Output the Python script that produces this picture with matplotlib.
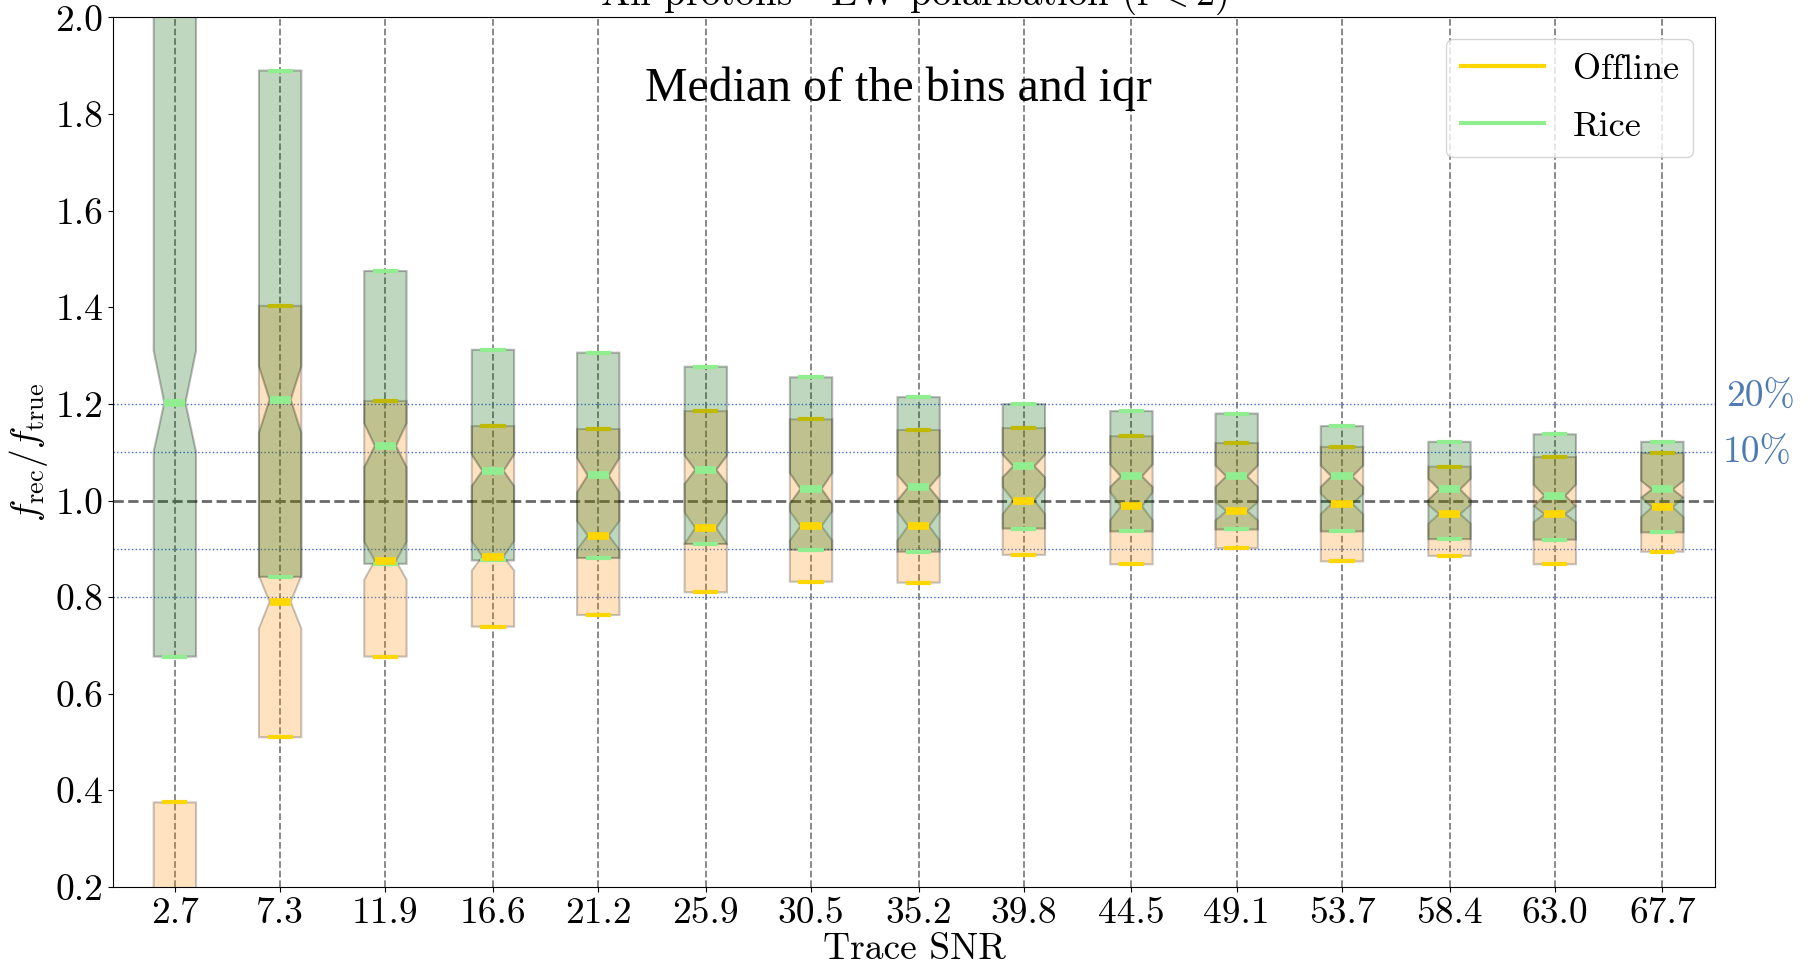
import matplotlib
matplotlib.use("Agg")
import matplotlib.pyplot as plt
from matplotlib.lines import Line2D

plt.rcParams["font.family"] = "cmr10"
plt.rcParams["mathtext.fontset"] = "cm"
plt.rcParams["axes.formatter.use_mathtext"] = True

# bin centres (trace SNR)
snr = [2.7, 7.3, 11.9, 16.6, 21.2, 25.9, 30.5, 35.2, 39.8, 44.5, 49.1, 53.7, 58.4, 63.0, 67.7]

# Offline: quartiles, median and notch (median confidence interval)
off_q1 = [-0.2, 0.51, 0.677, 0.739, 0.763, 0.810, 0.832, 0.830, 0.8875, 0.868, 0.901, 0.874, 0.8855, 0.868, 0.894]
off_med = [0.05, 0.79, 0.875, 0.884, 0.9275, 0.943, 0.947, 0.947, 1.0, 0.988, 0.978, 0.993, 0.972, 0.972, 0.986]
off_q3 = [0.375, 1.403, 1.206, 1.154, 1.148, 1.185, 1.168, 1.146, 1.150, 1.133, 1.119, 1.111, 1.070, 1.090, 1.098]
off_cilo = [-0.05, 0.735, 0.836, 0.855, 0.898, 0.910, 0.917, 0.917, 0.972, 0.959, 0.959, 0.972, 0.952, 0.955, 0.9655]
off_cihi = [0.15, 0.844, 0.915, 0.916, 0.958, 0.975, 0.978, 0.977, 1.028, 1.017, 0.997, 1.014, 0.991, 0.989, 1.007]

# Rice
rice_q1 = [0.677, 0.842, 0.869, 0.876, 0.881, 0.910, 0.898, 0.894, 0.942, 0.936, 0.940, 0.936, 0.920, 0.919, 0.934]
rice_med = [1.2025, 1.209, 1.113, 1.0615, 1.052, 1.0635, 1.024, 1.027, 1.071, 1.05, 1.05, 1.05, 1.023, 1.010, 1.023]
rice_q3 = [2.3, 1.890, 1.475, 1.312, 1.306, 1.277, 1.255, 1.214, 1.1995, 1.185, 1.180, 1.154, 1.1215, 1.137, 1.1215]
rice_cilo = [1.101, 1.14, 1.069, 1.030, 1.017, 1.0345, 0.993, 1.0, 1.048, 1.028, 1.028, 1.028, 1.001, 0.988, 1.0055]
rice_cihi = [1.31, 1.278, 1.160, 1.095, 1.088, 1.093, 1.057, 1.053, 1.095, 1.0745, 1.0725, 1.0725, 1.045, 1.033, 1.041]


def make_stats(q1, med, q3, cilo, cihi):
    # whiskers collapsed onto the box: caps mark the iqr edges
    return [dict(q1=a, med=m, q3=b, cilo=lo, cihi=hi, whislo=a, whishi=b, fliers=[])
            for a, m, b, lo, hi in zip(q1, med, q3, cilo, cihi)]


fig = plt.figure(figsize=(18.15, 9.68), dpi=100)
ax = fig.add_axes([0.0623, 0.0837, 0.8826, 0.8983])

width = 1.85

ax.bxp(make_stats(off_q1, off_med, off_q3, off_cilo, off_cihi),
       positions=snr, widths=width, patch_artist=True, shownotches=True,
       showfliers=False, manage_ticks=False,
       boxprops=dict(facecolor=(1.0, 0.55, 0.0, 0.25), edgecolor=(0, 0, 0, 0.22), linewidth=1.5),
       medianprops=dict(color="gold", linewidth=5.5, zorder=4),
       capprops=dict(color="gold", linewidth=3),
       whiskerprops=dict(color="gold", linewidth=0))

ax.bxp(make_stats(rice_q1, rice_med, rice_q3, rice_cilo, rice_cihi),
       positions=snr, widths=width, patch_artist=True, shownotches=True,
       showfliers=False, manage_ticks=False,
       boxprops=dict(facecolor=(0.0, 0.39, 0.0, 0.25), edgecolor=(0, 0, 0, 0.27), linewidth=1.5),
       medianprops=dict(color="lightgreen", linewidth=5.5, zorder=4),
       capprops=dict(color="lightgreen", linewidth=3, zorder=3),
       whiskerprops=dict(color="lightgreen", linewidth=0))

# reference levels
ax.axhline(1.0, color="dimgrey", ls="--", lw=2, zorder=1)
for lvl in [0.8, 0.9, 1.1, 1.2]:
    ax.axhline(lvl, color="royalblue", ls=":", lw=1, zorder=1)

ax.text(1.007, 1.213, "20%", transform=ax.get_yaxis_transform(), color="#4f7ab3",
        fontsize=27, va="center", ha="left")
ax.text(1.005, 1.097, "10%", transform=ax.get_yaxis_transform(), color="#4f7ab3",
        fontsize=27, va="center", ha="left")

ax.set_xlim(0, 70)
ax.set_ylim(0.2, 2.0)
ax.set_xticks(snr)
ax.set_xticklabels([f"{v:.1f}" for v in snr])
ax.set_yticks([0.2, 0.4, 0.6, 0.8, 1.0, 1.2, 1.4, 1.6, 1.8, 2.0])
ax.set_yticklabels([f"{v:.1f}" for v in [0.2, 0.4, 0.6, 0.8, 1.0, 1.2, 1.4, 1.6, 1.8, 2.0]])
ax.tick_params(labelsize=27)

ax.grid(axis="x", ls="--", color="grey", lw=1.3)
ax.set_axisbelow(True)

ax.set_xlabel("Trace SNR", fontsize=27, labelpad=2)
ax.set_ylabel(r"$f_\mathrm{rec}/f_\mathrm{true}$", fontsize=27, labelpad=4)
ax.set_title(r"All protons - EW polarisation ($\mathrm{r}<2$)", fontsize=28)

ax.text(0.49, 0.918, "Median of the bins and iqr", transform=ax.transAxes,
        ha="center", va="center", fontsize=34.5, family="Liberation Serif")

handles = [Line2D([], [], color="gold", lw=3),
           Line2D([], [], color="lightgreen", lw=3)]
ax.legend(handles, ["Offline", "Rice"], loc="upper right", fontsize=26,
          handlelength=2.3, labelspacing=0.68, borderaxespad=0.6)

fig.savefig("out.png", dpi=100)
